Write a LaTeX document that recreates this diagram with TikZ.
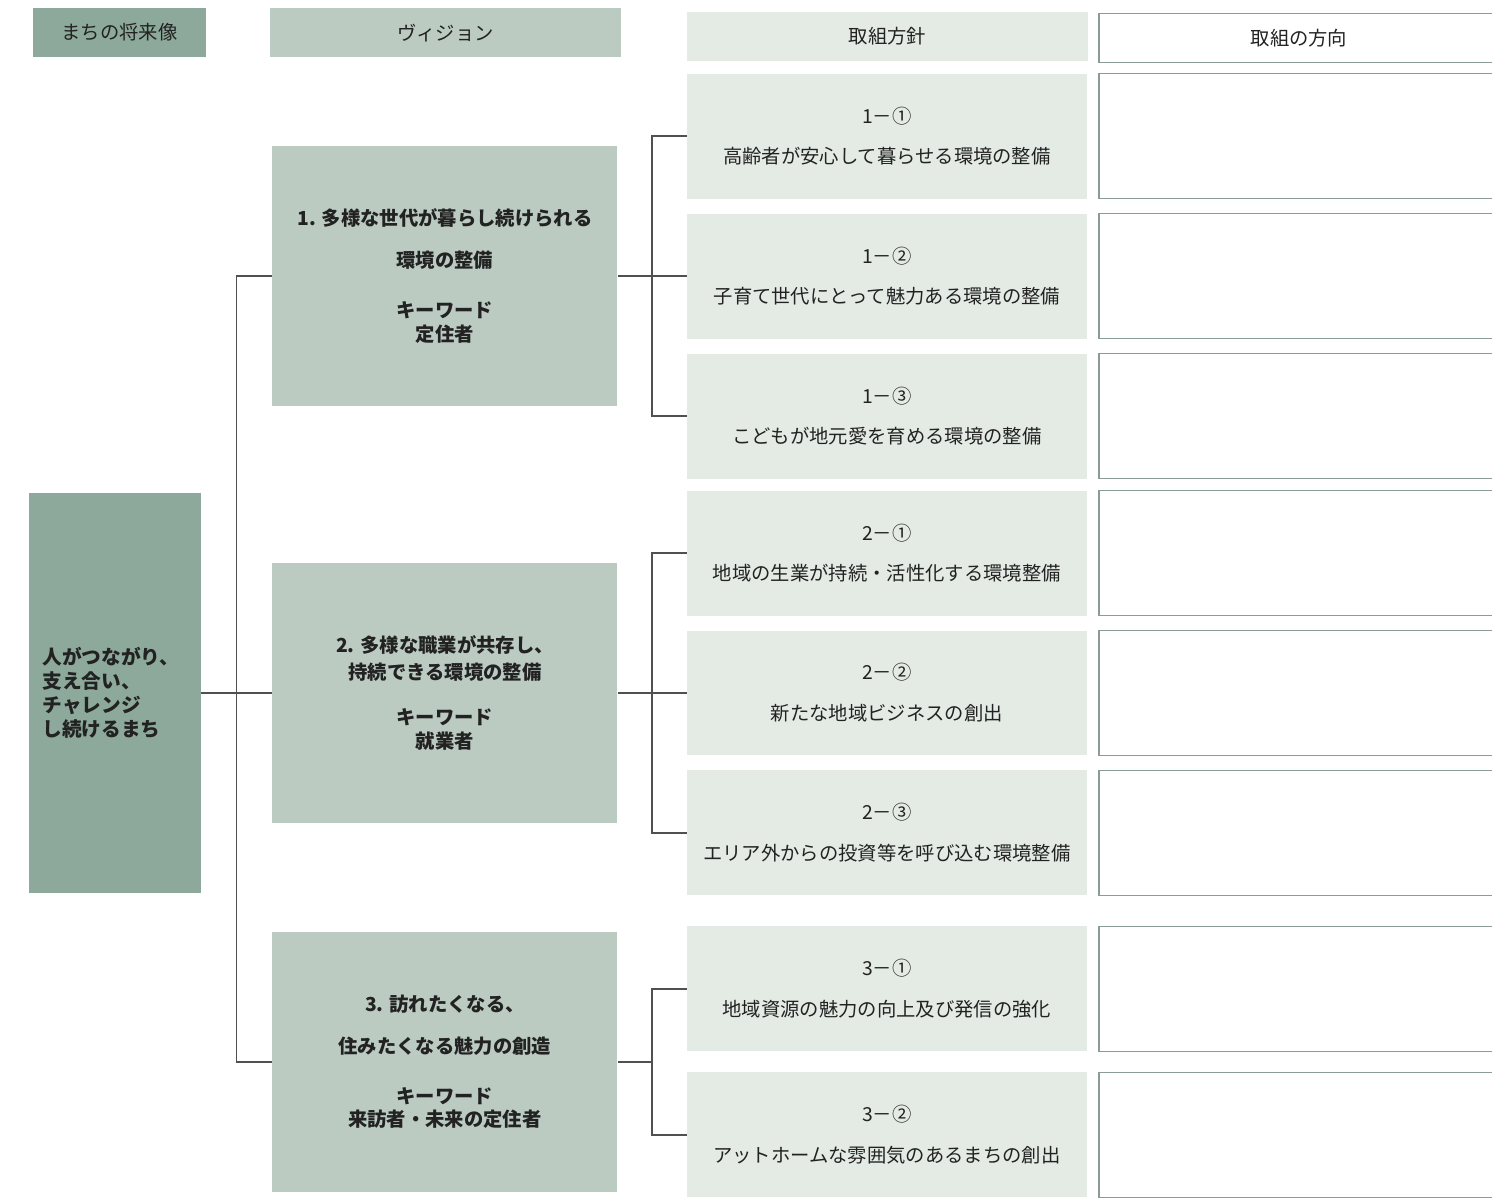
\documentclass[tikz,border=0pt]{standalone}
\usepackage{fontspec}
\setmainfont{Noto Sans CJK JP}
\usetikzlibrary{positioning, calc}
\definecolor{futurefill}{HTML}{8CA99B}
\definecolor{visionfill}{HTML}{BBCBC2}
\definecolor{policyfill}{HTML}{E4EBE5}
\definecolor{dirframe}{HTML}{8A9C93}
\definecolor{linkline}{HTML}{505050}
\definecolor{txt}{HTML}{222222}
\tikzset{
  cell/.style={rectangle, inner sep=0pt, align=center, text=txt, font=\fontsize{11}{13.6}\selectfont},
  futurebox/.style={cell, fill=futurefill, minimum width=3.44cm, minimum height=8cm, text width=2.9cm, align=left, font=\fontsize{11.2}{13.6}\selectfont\bfseries},
  visionbox/.style={cell, fill=visionfill, minimum width=6.9cm, minimum height=5.2cm, font=\fontsize{11}{13.6}\selectfont\bfseries},
  policybox/.style={cell, fill=policyfill, minimum width=8cm, minimum height=2.5cm},
  dirbox/.style={cell, draw=dirframe, line width=0.9pt, fill=white, minimum width=8cm, minimum height=2.5cm},
  headbox/.style={cell, minimum height=0.98cm},
}
\begin{document}
\begin{tikzpicture}[x=0.02cm, y=-0.02cm, grow'=right,
    level 1/.style={level distance=6.6cm, sibling distance=7.86cm},
    level 2/.style={level distance=8.84cm, sibling distance=2.8cm},
    level 3/.style={level distance=8.24cm, edge from parent/.style={draw=none}},
    edge from parent/.style={draw=linkline, line width=0.85pt},
    edge from parent path={(\tikzparentnode.east) -| ($(\tikzparentnode.east)!0.5!(\tikzchildnode.west)$) |- (\tikzchildnode.west)}]
  \useasboundingbox (0,0) rectangle (1492,1199);
  \clip (0,0) rectangle (1492,1199);

  \node[headbox, fill=futurefill, minimum width=3.46cm] (hfuture) at (119.5,32.5) {まちの将来像};
  \node[headbox, fill=visionfill, minimum width=7.02cm] (hvision) at (445.5,33) {ヴィジョン};
  \node[headbox, fill=policyfill, minimum width=8.02cm] (hpolicy) at (887.5,36.5) {取組方針};
  \node[headbox, draw=dirframe, line width=0.9pt, minimum width=8cm] (hdir) at (1299,38) {取組の方向};

  \node[futurebox] (future) at (115,693) {人がつながり、\\支え合い、\\チャレンジ\\し続けるまち}
    child[yshift=0.48cm] {
      node[visionbox] (v1) {1. 多様な世代が暮らし続けられる\\[10.2pt]環境の整備\\[14.8pt]キーワード\\定住者}
        child {
          node[policybox] (p11) {1－①\\[9.6pt]高齢者が安心して暮らせる環境の整備}
            child {node[dirbox] (d11) {}}
        }
        child {
          node[policybox] (p12) {1－②\\[9.6pt]子育て世代にとって魅力ある環境の整備}
            child {node[dirbox] (d12) {}}
        }
        child {
          node[policybox] (p13) {1－③\\[9.6pt]こどもが地元愛を育める環境の整備}
            child {node[dirbox] (d13) {}}
        }
    }
    child {
      node[visionbox] (v2) {2. 多様な職業が共存し、\\[1.7pt]持続できる環境の整備\\[12pt]キーワード\\就業者}
        child {
          node[policybox] (p21) {2－①\\[9.6pt]地域の生業が持続・活性化する環境整備}
            child {node[dirbox] (d21) {}}
        }
        child {
          node[policybox] (p22) {2－②\\[9.6pt]新たな地域ビジネスの創出}
            child {node[dirbox] (d22) {}}
        }
        child {
          node[policybox] (p23) {2－③\\[9.6pt]エリア外からの投資等を呼び込む環境整備}
            child {node[dirbox] (d23) {}}
        }
    }
    child[yshift=0.48cm] {
      node[visionbox] (v3) {3. 訪れたくなる、\\[10.2pt]住みたくなる魅力の創造\\[14.8pt]キーワード\\来訪者・未来の定住者}
        child[sibling distance=2.92cm] {
          node[policybox] (p31) {3－①\\[9.6pt]地域資源の魅力の向上及び発信の強化}
            child {node[dirbox] (d31) {}}
        }
        child[sibling distance=2.92cm] {
          node[policybox] (p32) {3－②\\[9.6pt]アットホームな雰囲気のあるまちの創出}
            child {node[dirbox] (d32) {}}
        }
    }
  ;
\end{tikzpicture}
\end{document}
